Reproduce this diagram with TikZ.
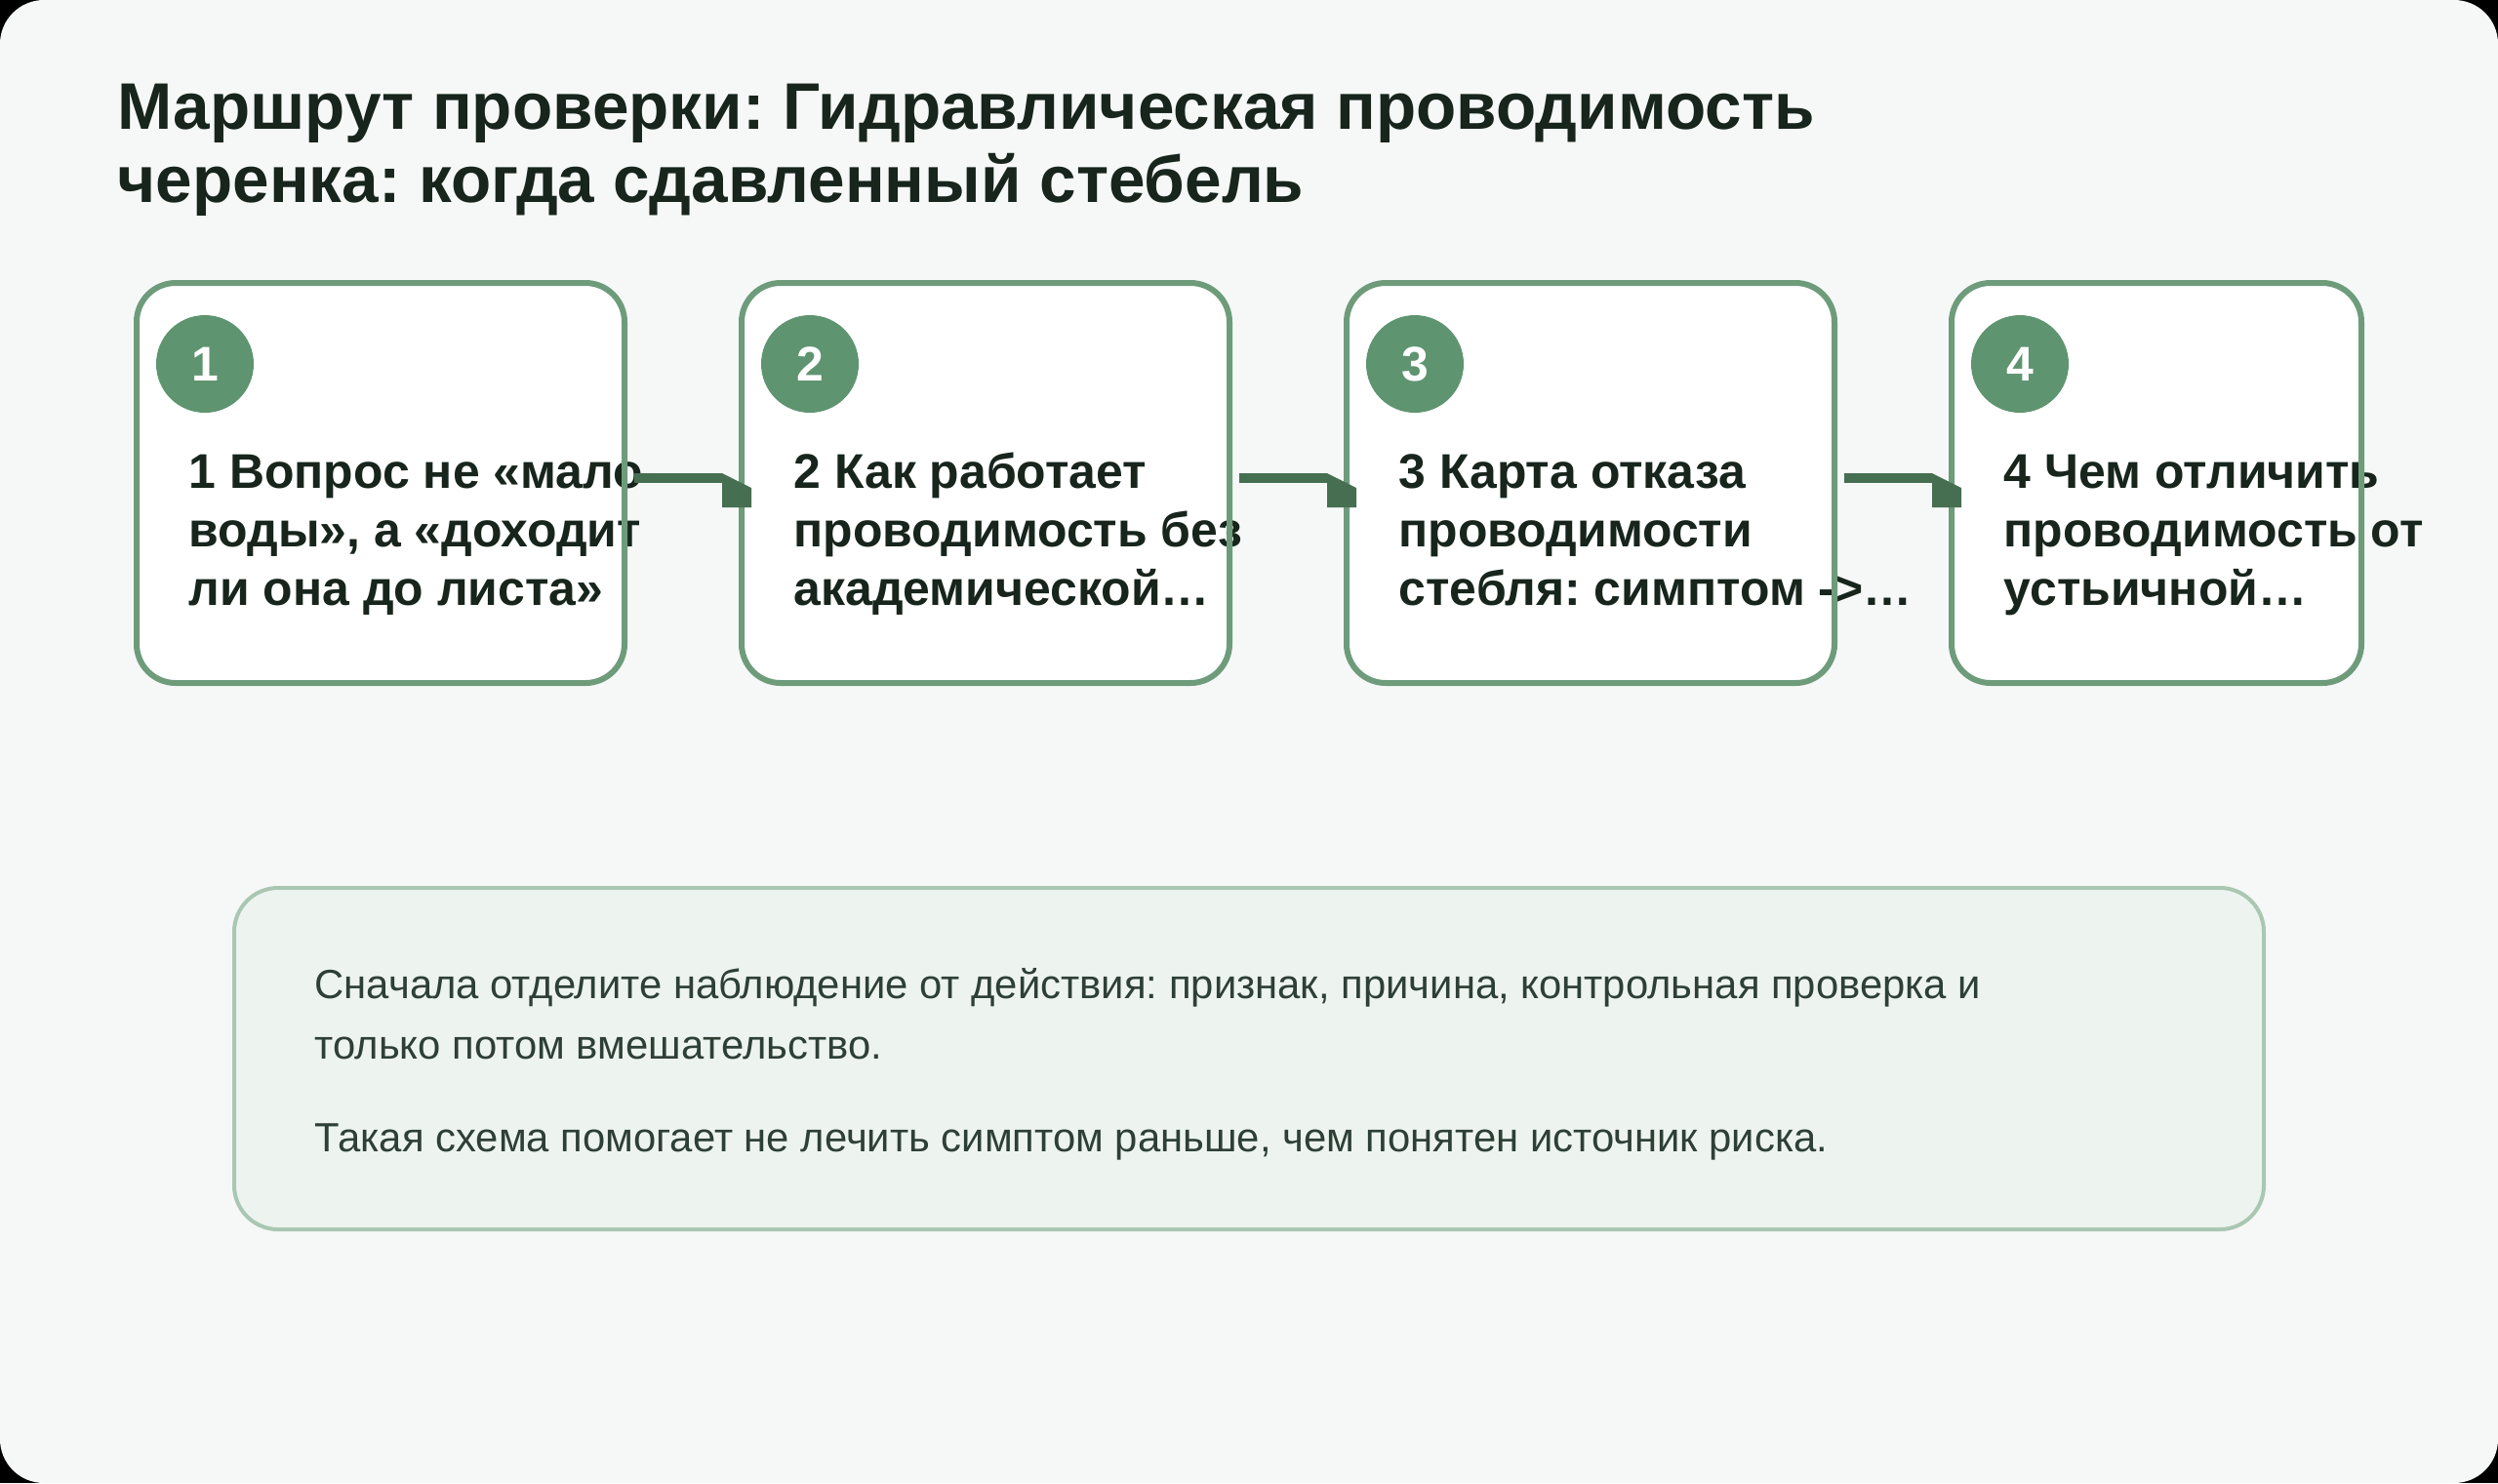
\documentclass[tikz,border=0pt]{standalone}
\usepackage{fontspec}
\setmainfont{Liberation Sans}
\usepackage{tikz}
\usetikzlibrary{positioning,calc}
\frenchspacing

\definecolor{pagebg}{HTML}{F6F8F7}
\definecolor{boxline}{HTML}{6E9C7B}
\definecolor{badgefill}{HTML}{5F9470}
\definecolor{linkgreen}{HTML}{466F52}
\definecolor{inktext}{HTML}{17251C}
\definecolor{notefill}{HTML}{EDF4EF}
\definecolor{noteline}{HTML}{AAC7B3}
\definecolor{notetext}{HTML}{2E3F36}

\begin{document}
\begin{tikzpicture}[
    stepbox/.style={
        rectangle,
        fill=white,
        rounded corners=0.4cm,
        minimum width=5.0cm,
        minimum height=4.1cm,
        outer sep=0pt,
        inner sep=0pt
    },
    frame/.style={draw=boxline, line width=0.06cm, rounded corners=0.4cm},
    badge/.style={
        circle,
        fill=badgefill,
        minimum size=1.0cm,
        inner sep=0pt,
        text=white,
        font=\fontsize{14.2pt}{14.2pt}\selectfont\bfseries
    },
    steptext/.style={
        anchor=base west,
        align=left,
        inner sep=0pt,
        text=inktext,
        font=\fontsize{14.2pt}{17.07pt}\selectfont\bfseries
    },
    title/.style={
        anchor=base west,
        align=left,
        inner sep=0pt,
        text=inktext,
        font=\fontsize{19.2pt}{21.34pt}\selectfont\bfseries
    },
    note/.style={
        rectangle,
        draw=noteline,
        fill=notefill,
        line width=0.04cm,
        rounded corners=0.45cm,
        minimum width=20.8cm,
        minimum height=3.5cm,
        outer sep=0pt
    },
    notetxt/.style={
        anchor=base west,
        align=left,
        inner sep=0pt,
        text=notetext,
        font=\fontsize{11.9pt}{17.64pt}\selectfont
    },
    link/.style={draw=linkgreen, line width=0.1cm},
    linkhead/.style={fill=linkgreen}
]

% ============================================================
% FON
% ============================================================
\fill[black] (0,0) rectangle (25.6,-15.2);
\fill[pagebg, rounded corners=0.45cm] (0,0) rectangle (25.6,-15.2);
\useasboundingbox (0,0) rectangle (25.6,-15.2);

% ============================================================
% ZAGOLOVOK (base = poslednyaya stroka)
% ============================================================
\node[title] (head) at (1.20,-2.07)
    {Маршрут проверки: Гидравлическая проводимость\\черенка: когда сдавленный стебель};

% ============================================================
% SHAGI
% ============================================================
\node[stepbox] (b1) at ( 3.90,-4.95) {};
\node[stepbox] (b2) at (10.10,-4.95) {};
\node[stepbox] (b3) at (16.30,-4.95) {};
\node[stepbox] (b4) at (22.10,-4.95) [minimum width=4.2cm] {};

\node[badge] (n1) at ([xshift=0.70cm,yshift=-0.83cm]b1.north west) {1};
\node[badge] (n2) at ([xshift=0.70cm,yshift=-0.83cm]b2.north west) {2};
\node[badge] (n3) at ([xshift=0.70cm,yshift=-0.83cm]b3.north west) {3};
\node[badge] (n4) at ([xshift=0.70cm,yshift=-0.83cm]b4.north west) {4};

\node[steptext] (t1) at ([xshift=0.53cm]b1.west |- 0,-6.20)
    {1 Вопрос не «мало\\воды», а «доходит\\ли она до листа»};
\node[steptext] (t2) at ([xshift=0.53cm]b2.west |- 0,-6.20)
    {2 Как работает\\проводимость без\\академической…};
\node[steptext] (t3) at ([xshift=0.53cm]b3.west |- 0,-6.20)
    {3 Карта отказа\\проводимости\\стебля: симптом ->…};
\node[steptext] (t4) at ([xshift=0.53cm]b4.west |- 0,-6.20)
    {4 Чем отличить\\проводимость от\\устьичной…};

% ramki poverh teksta
\draw[frame] (b1.south west) rectangle (b1.north east);
\draw[frame] (b2.south west) rectangle (b2.north east);
\draw[frame] (b3.south west) rectangle (b3.north east);
\draw[frame] (b4.south west) rectangle (b4.north east);

% ============================================================
% STRELKI
% ============================================================
\draw[link] ([xshift=0.1cm,yshift=0.05cm]b1.east) -- ([xshift=-0.2cm,yshift=0.05cm]b2.west);
\fill[linkhead] ([xshift=-0.2cm,yshift=0.1cm]b2.west) -- ++(0.3,-0.15) -- ++(0,-0.2) -- ++(-0.3,0) -- cycle;

\draw[link] ([xshift=0.1cm,yshift=0.05cm]b2.east) -- ([xshift=-0.2cm,yshift=0.05cm]b3.west);
\fill[linkhead] ([xshift=-0.2cm,yshift=0.1cm]b3.west) -- ++(0.3,-0.15) -- ++(0,-0.2) -- ++(-0.3,0) -- cycle;

\draw[link] ([xshift=0.1cm,yshift=0.05cm]b3.east) -- ([xshift=-0.2cm,yshift=0.05cm]b4.west);
\fill[linkhead] ([xshift=-0.2cm,yshift=0.1cm]b4.west) -- ++(0.3,-0.15) -- ++(0,-0.2) -- ++(-0.3,0) -- cycle;

% ============================================================
% PRIMECHANIE
% ============================================================
\node[note] (box) at (12.80,-10.85) {};
\node[notetxt] (p1) at ([xshift=0.82cm]box.west |- 0,-10.85)
    {Сначала отделите наблюдение от действия: признак, причина, контрольная проверка и\\только потом вмешательство.};
\node[notetxt] (p2) at ([xshift=0.82cm]box.west |- 0,-11.80)
    {Такая схема помогает не лечить симптом раньше, чем понятен источник риска.};

\end{tikzpicture}
\end{document}
